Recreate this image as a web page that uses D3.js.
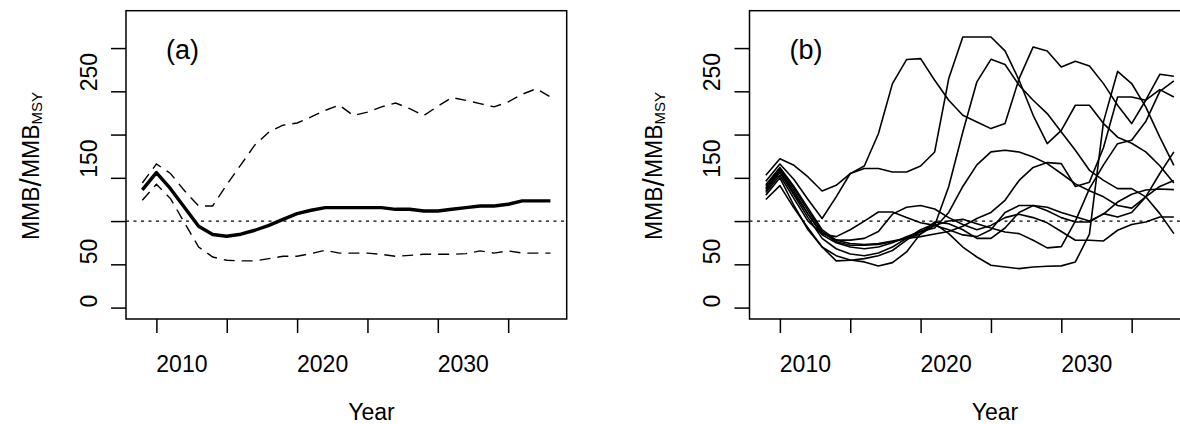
<!DOCTYPE html>
<html><head><meta charset="utf-8">
<script src="https://cdn.jsdelivr.net/npm/d3@7"></script>
<style>html,body{margin:0;padding:0;background:#fff;} svg{display:block;}</style>
</head><body><svg id="c" width="1180" height="424"></svg>
<script>
// ---------- data ----------
const years = [2009,2010,2011,2012,2013,2014,2015,2016,2017,2018,2019,2020,2021,2022,2023,2024,2025,2026,2027,2028,2029,2030,2031,2032,2033,2034,2035,2036,2037,2038];

// panel (a)
const medianA = [136,156,137.5,115.6,94,84.5,82.5,84.8,89.4,95,102,108.6,112.5,115.6,115.6,115.6,115.6,115.6,113.6,113.6,111.7,111.7,113.6,115.6,117.5,117.5,119.4,123.3,123.3,123.3];
const upperA  = [144,166,155,135,117.5,117.5,142,165,188,203,210.8,213.4,220.4,228,234,222,226,232,236.5,230,222,232.7,242.7,239.6,235.8,232,237.7,246.6,253,243.5];
const lowerA  = [124,142.5,126,98,70,58.5,54.7,54,54,56.6,59.3,59.3,62.4,66.2,63,63,63,61.6,59.3,60.4,61.6,61.6,61.6,62.4,65.5,63,65.5,63,63,63];

// panel (b) individual trajectories
const trajA = [153,172,164.5,151,134.8,141.4,154.9,163.7,201,258.9,286.7,287.8,262.8,239.7,222.3,214.6,206.9,212.7,264.7,301.3,296.7,278.2,284.7,279.4,258.9,233.9,212.7,239.7,269.7,267.4];
const trajB = [146,166,148,125,103,128,155,160.7,160.7,156.8,156.8,163.7,179.9,264.7,312.8,312.8,312.8,296.7,262.8,222.3,189.5,204.9,233.9,233.9,212.7,197,190,180,164,144];
const trajC = [140,160,138,112,88,76,72,72,73,76,80,85,95,140,203,261,287,281,257,239.7,224.3,203,181.8,158.7,147,137.5,137.5,128,108.6,85.5];
const trajD = [135,156,130,104,80,68,62,60,63,70,80,90,97,85.5,70,58.5,49,47,45,47,47.8,48.2,52.8,85,215,273,259,232,197,164.5];
const trajE = [130,150,118,90,70,60,55,52.8,48,52,64.3,85.5,99,97,90,80,80,92,110,118,116,110,105,100,108,122,131,136,137,136.4];
const trajF = [125,141,115,92,70,54,54.7,56.6,60,66,78,88,95,100,102,97,92,87.4,85.5,77.8,69,70.5,100,137.5,165,189.5,193.4,215,250,262];
const trajG = [138,158,135,108,84,75,70,68,70,75,82,88,92,110,140,165,180,181.8,179.9,174,166.4,155,143,135,128,118,115,128,155,180];
const trajH = [137,157,132,108,86,78,78,80,88,108,116,118,114,104,96,90,95,104,108,104,98,88,77.8,77.8,77,89.4,96,99,104.7,104.7];
const trajI = [142,162,140,115,90,78,74,73,74,77,80,82,85,88,94,103,110,124,147,162,167.6,166.4,140,145,185,243.5,243.5,239.7,252,243.5];
const trajJ = [133,153,126,100,85,82,90,100,110.5,110.5,104,98,95,90,84,82,90,110,118,118,112,104,99,99,108.6,104.8,110,128,140,147];

const refLevel = 100;
const yTicks = [0,50,100,150,200,250,300];
const yTickLabels = [0,50,150,250];
const xTicks = [2010,2015,2020,2025,2030,2035];
const xTickLabels = [2010,2020,2030];
const panelLabels = ["(a)","(b)"];
const xTitle = "Year";

// ---------- drawing ----------
const FONT = "'Liberation Sans', Arial, Helvetica, sans-serif";
const svg = d3.select("#c");
svg.append("rect").attr("width",1180).attr("height",424).attr("fill","#fff");

const panelOffsets = [0, 623.5];
const plotL = 126, plotR = 566.7, plotT = 10.7, plotB = 319;

function drawPanel(idx) {
  const dx = panelOffsets[idx];
  const g = svg.append("g").attr("transform", `translate(${dx},0)`);
  const x = d3.scaleLinear().domain([2007.84, 2039.16]).range([plotL, plotR]);
  const y = d3.scaleLinear().domain([-13.2, 343.2]).range([plotB, plotT]);

  // axes (ticks only)
  const ya = g.append("g").attr("transform", `translate(${plotL},0)`)
    .call(d3.axisLeft(y).tickValues(yTicks).tickSize(15).tickFormat(""));
  const xa = g.append("g").attr("transform", `translate(0,${plotB})`)
    .call(d3.axisBottom(x).tickValues(xTicks).tickSize(14).tickFormat(""));
  [ya, xa].forEach(a => {
    a.select(".domain").remove();
    a.selectAll("line").attr("stroke","#000").attr("stroke-width",1.5);
  });

  // tick labels
  g.selectAll("text.yl").data(yTickLabels).enter().append("text")
    .attr("class","yl")
    .attr("transform", d => `translate(96.5,${y(d)}) rotate(-90)`)
    .attr("text-anchor","start")
    .attr("font-family",FONT).attr("font-size",23).attr("fill","#000")
    .text(d => d);
  g.selectAll("text.xl").data(xTickLabels).enter().append("text")
    .attr("class","xl")
    .attr("x", d => x(d) + 25.5).attr("y", 371.5)
    .attr("text-anchor","middle")
    .attr("font-family",FONT).attr("font-size",23).attr("fill","#000")
    .text(d => d);

  // axis titles
  g.append("text").attr("x", 371.5).attr("y", 419.5)
    .attr("text-anchor","middle").attr("font-family",FONT).attr("font-size",23)
    .text(xTitle);
  const yt = g.append("text")
    .attr("transform","translate(38.5,166) rotate(-90)")
    .attr("text-anchor","middle").attr("font-family",FONT).attr("font-size",23);
  yt.append("tspan").text("MMB");
  yt.append("tspan").attr("font-size",30).attr("dy",2).text("/");
  yt.append("tspan").attr("dy",-2).text("MMB");
  yt.append("tspan").attr("font-size",15).attr("dy",3).text("MSY");

  // reference line
  g.append("line").attr("x1",plotL).attr("x2",plotR)
    .attr("y1",y(refLevel)).attr("y2",y(refLevel))
    .attr("stroke","#000").attr("stroke-width",1.4).attr("stroke-dasharray","3,4.5");

  const line = d3.line().x((d,i) => x(years[i])).y(d => y(d));

  if (idx === 0) {
    [upperA, lowerA].forEach(s => g.append("path").datum(s).attr("d", line)
      .attr("fill","none").attr("stroke","#000").attr("stroke-width",1.4)
      .attr("stroke-dasharray","11,7"));
    g.append("path").datum(medianA).attr("d", line)
      .attr("fill","none").attr("stroke","#000").attr("stroke-width",3.4)
      .attr("stroke-linejoin","round");
  } else {
    [trajA,trajB,trajC,trajD,trajE,trajF,trajG,trajH,trajI,trajJ].forEach(s =>
      g.append("path").datum(s).attr("d", line)
        .attr("fill","none").attr("stroke","#000").attr("stroke-width",1.6)
        .attr("stroke-linejoin","round"));
  }

  // box
  g.append("rect").attr("x",plotL).attr("y",plotT)
    .attr("width",plotR-plotL).attr("height",plotB-plotT)
    .attr("fill","none").attr("stroke","#000").attr("stroke-width",1.5);

  // panel label
  g.append("text").attr("x", plotL + 56.5).attr("y", 58.5)
    .attr("text-anchor","middle").attr("font-family",FONT).attr("font-size",27)
    .text(panelLabels[idx]);
}

drawPanel(0);
drawPanel(1);
</script>
</body></html>
